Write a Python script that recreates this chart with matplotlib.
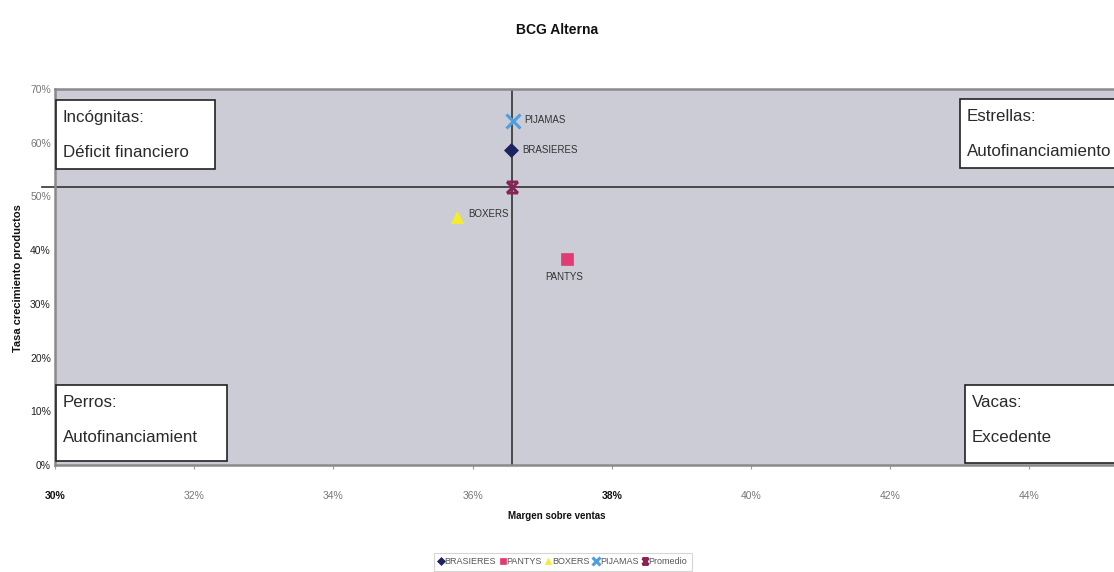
import matplotlib
matplotlib.use("Agg")
import matplotlib.pyplot as plt
from matplotlib.patches import Rectangle
from matplotlib.path import Path
import numpy as np

# ---- data ----
products = ["BRASIERES", "PANTYS", "BOXERS", "PIJAMAS"]
margin = [36.55, 37.36, 35.78, 36.58]       # Margen sobre ventas (%)
growth = [58.7, 38.3, 46.2, 64.0]           # Tasa crecimiento productos (%)
avg_label = "Promedio"
avg_margin = [36.57]
avg_growth = [51.8]
x_ticks = [30, 32, 34, 36, 38, 40, 42, 44]
y_ticks = [0, 10, 20, 30, 40, 50, 60, 70]
quadrants = ["Incógnitas:\nDéficit financiero",
             "Estrellas:\nAutofinanciamiento",
             "Perros:\nAutofinanciamient",
             "Vacas:\nExcedente\nfinanciero"]

colors = ["#1c2360", "#e23a74", "#f4ee2a", "#4f9fe0"]
markers = ["D", "s", "^", "x"]
msizes = [7, 9, 9, 10]

FONT = ["Liberation Sans Narrow", "Liberation Sans", "DejaVu Sans"]
plt.rcParams["font.family"] = FONT

W, H = 1114, 572
fig = plt.figure(figsize=(W / 100, H / 100), dpi=100)
ax = fig.add_axes([55 / W, 1 - 465 / H, 1 - 55 / W, (465 - 89) / H])
ax.set_facecolor("#cbccd6")
ax.set_xlim(30, 30 + (W - 55) / 69.6)
ax.set_ylim(0, 70)

for s in ["left", "top", "bottom"]:
    ax.spines[s].set_color("#8a8a8a")
    ax.spines[s].set_linewidth(1.8)
ax.spines["right"].set_visible(False)

ax.set_xticks(x_ticks)
ax.set_xticklabels([f"{v}%" for v in x_ticks])
ax.set_yticks(y_ticks)
ax.set_yticklabels([f"{v}%" for v in y_ticks])
ax.tick_params(axis="x", length=3, color="#9a9a9a", pad=16, labelsize=7.5)
ax.tick_params(axis="y", length=0, pad=3, labelsize=7.5)
for lab, v in zip(ax.get_xticklabels(), x_ticks):
    lab.set_color("#111111" if v in (30, 38) else "#777777")
    if v in (30, 38):
        lab.set_fontweight("bold")
for lab, v in zip(ax.get_yticklabels(), y_ticks):
    lab.set_color("#222222" if v <= 40 else "#777777")

# quadrant dividing lines at the average
ax.axvline(avg_margin[0], color="#333333", lw=1.2, zorder=2)
ax.axhline(avg_growth[0], xmin=-0.012, xmax=1, color="#333333", lw=1.2,
           zorder=2, clip_on=False)

# quadrant boxes (axes-fraction positions)
def axfrac(px, py):
    bb = ax.get_position()
    return ((px / W - bb.x0) / bb.width, ((1 - py / H) - bb.y0) / bb.height)

boxes = [(56, 100, 215, 169), (960, 99, 1120, 168),
         (56, 385, 227, 461), (965, 385, 1120, 463)]
for (x0, y0, x1, y1), txt in zip(boxes, quadrants):
    fx0, fy1 = axfrac(x0, y0)
    fx1, fy0 = axfrac(x1, y1)
    rect = Rectangle((fx0, fy0), fx1 - fx0, fy1 - fy0, transform=ax.transAxes,
                     facecolor="white", edgecolor="#222222", lw=1.2, zorder=4,
                     clip_on=False)
    ax.add_patch(rect)
    t = ax.text(fx0 + 7 / 1059, fy1 - 10 / 376, txt, transform=ax.transAxes,
                ha="left", va="top", fontsize=12.2, color="#2a2a2a",
                linespacing=2.65, zorder=5, family=FONT)
    t.set_clip_on(True)
    t.set_clip_path(rect)

# product points
for name, xm, yg, c, m, ms in zip(products, margin, growth, colors, markers, msizes):
    mew = 2.2 if m == "x" else 0.5
    ax.plot([xm], [yg], linestyle="none", marker=m, color=c, markersize=ms,
            markeredgewidth=mew, markeredgecolor=c, label=name, zorder=6)

# Promedio star marker (Excel style)
star = Path([(-1, 1), (1, 1), (-1, -1), (1, -1), (-1, 1), (1, -1), (-1, -1), (1, 1)],
            [Path.MOVETO, Path.LINETO, Path.MOVETO, Path.LINETO,
             Path.MOVETO, Path.LINETO, Path.MOVETO, Path.LINETO])
ax.plot(avg_margin, avg_growth, linestyle="none", marker=star, color="#8c2155",
        markersize=8, markeredgewidth=2, label=avg_label, zorder=7)

# data labels
offsets = {"BRASIERES": (8, 0, "left", "center"),
           "PANTYS": (-2, -13, "center", "center"),
           "BOXERS": (8, 2, "left", "center"),
           "PIJAMAS": (8, 1, "left", "center")}
for name, xm, yg in zip(products, margin, growth):
    dx, dy, ha, va = offsets[name]
    ax.annotate(name, (xm, yg), xytext=(dx, dy), textcoords="offset points",
                ha=ha, va=va, fontsize=7, color="#333333", zorder=8)

fig.text(557 / W, 1 - 30 / H, "BCG Alterna", ha="center", va="center",
         fontsize=10, fontweight="bold", color="#111111")
fig.text(557 / W, 1 - 516 / H, "Margen sobre ventas", ha="center", va="center",
         fontsize=7, fontweight="bold", color="#111111")
fig.text(18 / W, 1 - 278 / H, "Tasa crecimiento productos", ha="center",
         va="center", rotation=90, fontsize=8, fontweight="bold", color="#111111")

handles, labels = ax.get_legend_handles_labels()
leg = fig.legend(handles, labels, loc="center", bbox_to_anchor=(563 / W, 1 - 562 / H),
                 ncol=5, fontsize=6.5, frameon=True, handlelength=0.5,
                 handletextpad=0.15, columnspacing=0.5, borderpad=0.3,
                 markerscale=0.55)
leg.get_frame().set_edgecolor("#cccccc")
leg.get_frame().set_linewidth(0.8)
leg.get_frame().set_boxstyle("square", pad=0.2)
for t in leg.get_texts():
    t.set_color("#555555")

fig.savefig("out.png", dpi=100, facecolor="white")
